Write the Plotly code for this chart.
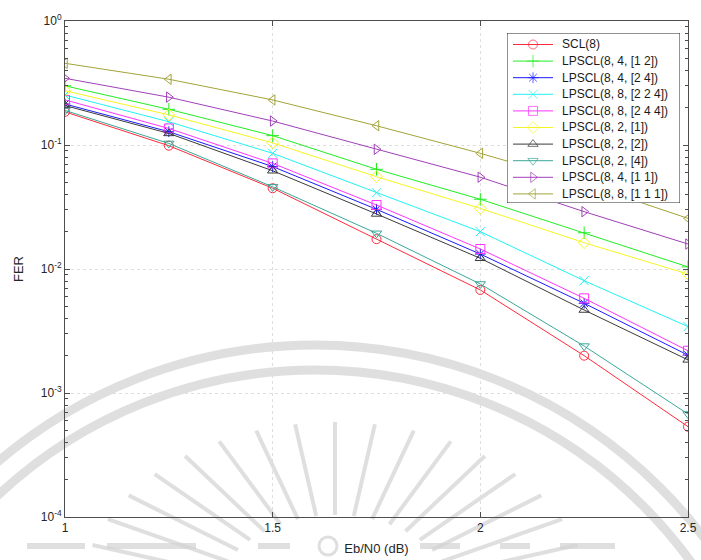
import numpy as np
import plotly.graph_objects as go

# Eb/N0 operating points (dB)
ebn0 = [1.0, 1.25, 1.5, 1.75, 2.0, 2.25, 2.5]

# Frame error rate per decoder
fer_scl8 = [0.185, 0.0987, 0.0448, 0.0174, 0.00678, 0.00200, 0.000535]
fer_4_12 = [0.300, 0.194, 0.119, 0.0637, 0.0365, 0.0196, 0.0104]
fer_4_24 = [0.214, 0.128, 0.067, 0.0303, 0.0132, 0.00529, 0.00202]
fer_8_224 = [0.253, 0.154, 0.0857, 0.0412, 0.0200, 0.00805, 0.00343]
fer_8_244 = [0.231, 0.136, 0.0711, 0.0328, 0.0145, 0.00580, 0.00219]
fer_2_1 = [0.274, 0.175, 0.104, 0.0555, 0.0308, 0.0163, 0.0091]
fer_2_2 = [0.208, 0.124, 0.062, 0.0278, 0.0122, 0.00467, 0.00185]
fer_2_4 = [0.190, 0.103, 0.046, 0.0194, 0.00757, 0.00239, 0.000677]
fer_4_11 = [0.345, 0.243, 0.156, 0.0923, 0.055, 0.0290, 0.0159]
fer_8_111 = [0.456, 0.339, 0.231, 0.143, 0.0857, 0.049, 0.0256]

series_names = [
    "SCL(8)", "LPSCL(8, 4, [1 2])", "LPSCL(8, 4, [2 4])", "LPSCL(8, 8, [2 2 4])",
    "LPSCL(8, 8, [2 4 4])", "LPSCL(8, 2, [1])", "LPSCL(8, 2, [2])",
    "LPSCL(8, 2, [4])", "LPSCL(8, 4, [1 1])", "LPSCL(8, 8, [1 1 1])",
]
series_values = [fer_scl8, fer_4_12, fer_4_24, fer_8_224, fer_8_244,
                 fer_2_1, fer_2_2, fer_2_4, fer_4_11, fer_8_111]

y_tickvals = [1e-4, 1e-3, 1e-2, 1e-1, 1e0]
y_ticktext = ["10<sup>-4</sup>", "10<sup>-3</sup>", "10<sup>-2</sup>",
              "10<sup>-1</sup>", "10<sup>0</sup>"]
x_tickvals = [1, 1.5, 2, 2.5]
x_ticktext = ["1", "1.5", "2", "2.5"]

colors = ["#ff2a3c", "#22ee22", "#1a1aff", "#22f2f2", "#ff33ff",
          "#f5f522", "#3a3a3a", "#3aa898", "#a040b8", "#a3a33a"]
symbols = ["circle-open", "cross-thin-open", "asterisk-open", "x-thin-open",
           "square-open", "diamond-open", "triangle-up-open",
           "triangle-down-open", "triangle-right-open", "triangle-left-open"]

FONT = "Liberation Sans, Arial, sans-serif"
W, H = 701, 560
L, R, T, B = 65, 13, 21, 43
pw, ph = W - L - R, H - T - B


def px(x):
    return (x - L) / pw


def py(y):
    return (H - B - y) / ph


fig = go.Figure()
for name, vals, col, sym in zip(series_names, series_values, colors, symbols):
    fig.add_trace(go.Scatter(
        x=ebn0, y=vals, name=name, mode="lines+markers", showlegend=False,
        line=dict(color=col, width=1),
        marker=dict(symbol=sym, size=9, color=col, line=dict(color=col, width=1)),
    ))

# ---- compact key box on its own small pixel-scaled axes ----
box_l, box_t, box_r, box_b = 507, 33, 680, 203
key_w, key_h = box_r - box_l, box_b - box_t
row0, row_step = 11.5, 16.6
fig.add_trace(go.Scatter(
    x=[0, key_w, key_w, 0, 0], y=[0, 0, key_h, key_h, 0],
    xaxis="x2", yaxis="y2", mode="lines", fill="toself",
    fillcolor="white", line=dict(color="#262626", width=1),
    hoverinfo="skip", showlegend=False,
))
annotations = []
for i, (name, col, sym) in enumerate(zip(series_names, colors, symbols)):
    ry = row0 + i * row_step
    fig.add_trace(go.Scatter(
        x=[6, 26, 46], y=[ry, ry, ry], xaxis="x2", yaxis="y2",
        mode="lines+markers", line=dict(color=col, width=1),
        marker=dict(symbol=sym, size=[0, 9, 0], color=col, line=dict(color=col, width=1)),
        hoverinfo="skip", showlegend=False,
    ))
    annotations.append(dict(
        x=53, y=ry, xref="x2", yref="y2", text=name, showarrow=False,
        xanchor="left", yanchor="middle",
        font=dict(family=FONT, size=12, color="#1a1a1a"),
    ))

# ---- faint background emblem: concentric arcs, a fan of rays, dashes ----
shapes = []
wm = "rgba(210,210,210,0.7)"
cx, cy = 315, 834
for rad in (489, 464):
    shapes.append(dict(type="circle", xref="paper", yref="paper", layer="below",
                       x0=px(cx - rad), x1=px(cx + rad), y0=py(cy + rad), y1=py(cy - rad),
                       line=dict(color=wm, width=9)))
fx, fy = 335, 600
for ang in np.linspace(18, 162, 17):
    a = np.radians(ang)
    xo, yo = fx + 255 * np.cos(a), fy - 178 * np.sin(a)
    xi, yi = fx + 120 * np.cos(a), fy - 85 * np.sin(a)
    shapes.append(dict(type="line", xref="paper", yref="paper", layer="below",
                       x0=px(xi), y0=py(yi), x1=px(xo), y1=py(yo),
                       line=dict(color=wm, width=4)))
for xa, xb in [(27, 85), (107, 196), (258, 290), (420, 460), (500, 530), (560, 615)]:
    shapes.append(dict(type="line", xref="paper", yref="paper", layer="below",
                       x0=px(xa), y0=py(546), x1=px(xb), y1=py(546),
                       line=dict(color=wm, width=6)))
shapes.append(dict(type="circle", xref="paper", yref="paper", layer="below",
                   x0=px(319), x1=px(337), y0=py(555), y1=py(537),
                   line=dict(color=wm, width=3)))

minor_y = [m * 10.0 ** e for e in range(-4, 0) for m in range(2, 10)]

axis_common = dict(
    showline=True, linecolor="#4d4d4d", linewidth=1, mirror="ticks",
    ticks="inside", ticklen=5, tickcolor="#4d4d4d", automargin=False,
    showgrid=True, gridcolor="#dedede", griddash="dot", gridwidth=1,
    zeroline=False, tickfont=dict(family=FONT, size=12, color="#262626"),
)

fig.update_layout(
    width=W, height=H,
    margin=dict(l=L, r=R, t=T, b=B),
    paper_bgcolor="white", plot_bgcolor="rgba(0,0,0,0)",
    font=dict(family=FONT, size=12, color="#262626"),
    shapes=shapes, annotations=annotations,
    showlegend=False,
    xaxis=dict(
        range=[1, 2.5], tickvals=x_tickvals, ticktext=x_ticktext,
        title=dict(text="Eb/N0 (dB)", standoff=9, font=dict(size=13)),
        **axis_common,
    ),
    yaxis=dict(
        type="log", range=[-4, 0], tickvals=y_tickvals, ticktext=y_ticktext,
        title=dict(text="FER", standoff=14, font=dict(size=13)),
        minor=dict(tickvals=minor_y, ticks="inside", ticklen=3, tickcolor="#4d4d4d",
                   showgrid=False),
        **axis_common,
    ),
    xaxis2=dict(domain=[px(box_l), px(box_r)], range=[0, key_w], anchor="y2",
                visible=False, fixedrange=True),
    yaxis2=dict(domain=[py(box_b), py(box_t)], range=[key_h, 0], anchor="x2",
                visible=False, fixedrange=True),
)

fig.write_html("out.html")
